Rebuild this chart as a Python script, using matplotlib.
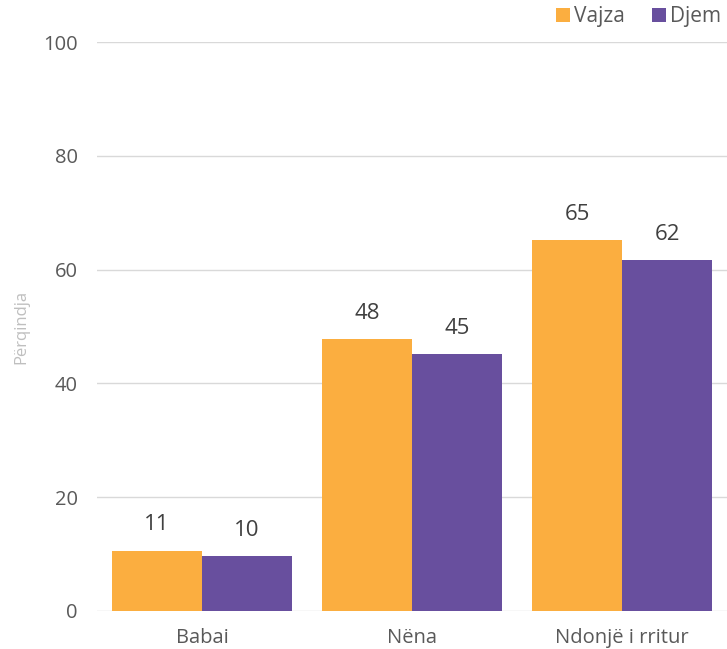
import matplotlib
matplotlib.use("Agg")
import matplotlib.pyplot as plt
import numpy as np

categories = ["Babai", "Nëna", "Ndonjë i rritur"]
vajza = [10.6, 47.8, 65.2]
djem = [9.6, 45.2, 61.6]
series_names = ["Vajza", "Djem"]
yticks = [0, 20, 40, 60, 80, 100]

plt.rcParams['font.family'] = ['Open Sans', 'DejaVu Sans']

fig = plt.figure(figsize=(7.27, 6.49), dpi=100)
ax = fig.add_axes([97/727, 1-611/649, 1-97/727, (611-42)/649])

x = np.arange(len(categories))
w = 0.4286
c1, c2 = "#FBAE40", "#684F9E"
b1 = ax.bar(x - w/2, vajza, w, color=c1, label=series_names[0], zorder=3)
b2 = ax.bar(x + w/2, djem, w, color=c2, label=series_names[1], zorder=3)

for bars, vals in ((b1, vajza), (b2, djem)):
    for b, v in zip(bars, vals):
        ax.annotate(f"{v:.0f}", (b.get_x() + b.get_width()/2, v),
                    xytext=(0, 11), textcoords="offset points",
                    ha="center", va="bottom", fontsize=16, color="#404040")

ax.set_xlim(-0.5, 2.5)
ax.set_ylim(0, 100)
ax.set_yticks(yticks)
ax.set_xticks(x)
ax.set_xticklabels(categories)
ax.grid(axis="y", color="#D9D9D9", linewidth=1, zorder=0)
for s in ax.spines.values():
    s.set_visible(False)
ax.tick_params(axis="both", length=0, labelsize=14.5, colors="#595959")
ax.tick_params(axis="y", pad=14)
ax.tick_params(axis="x", pad=12)
ax.set_ylabel("Përqindja", color="#BFBFBF", fontsize=12, labelpad=10)

leg = fig.legend(handles=[b1, b2], labels=series_names, loc="upper right",
                 bbox_to_anchor=(1.0, 1.0), ncol=2, frameon=False,
                 fontsize=15, handlelength=0.65, handleheight=0.65,
                 handletextpad=0.2, columnspacing=1.3, borderaxespad=0.0,
                 borderpad=0.3)
for t in leg.get_texts():
    t.set_color("#595959")

fig.savefig("out.png", dpi=100)
